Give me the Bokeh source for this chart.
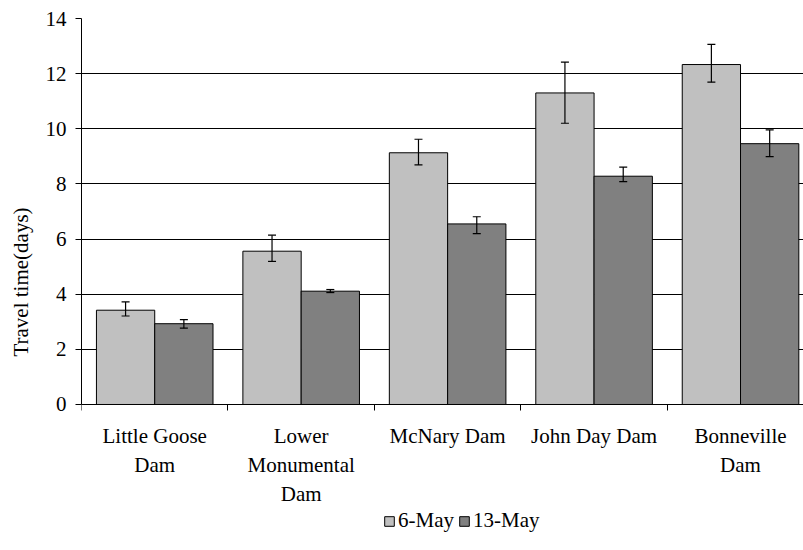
from bokeh.plotting import figure
from bokeh.models import (ColumnDataSource, Whisker, TeeHead, FixedTicker, Range1d,
                          Legend, LegendItem)
from bokeh.embed import file_html
from bokeh.resources import INLINE

# ---- data ----
categories = ["Little Goose\nDam", "Lower\nMonumental\nDam", "McNary Dam",
              "John Day Dam", "Bonneville\nDam"]
may6 = [3.42, 5.56, 9.13, 11.30, 12.33]
may6_lo = [3.21, 5.19, 8.69, 10.20, 11.69]
may6_hi = [3.72, 6.14, 9.62, 12.42, 13.06]
may13 = [2.93, 4.11, 6.55, 8.28, 9.46]
may13_lo = [2.77, 4.06, 6.20, 8.08, 8.99]
may13_hi = [3.08, 4.17, 6.81, 8.61, 9.96]
y_ticks = [0, 2, 4, 6, 8, 10, 12, 14]
series_names = ["6-May", "13-May"]

FONT = "Liberation Serif"
FS = "21px"
bar_w = 0.398
centers = [i + 0.5 for i in range(len(categories))]

src6 = ColumnDataSource(dict(x=[c - bar_w / 2 for c in centers], top=may6,
                             lo=may6_lo, hi=may6_hi))
src13 = ColumnDataSource(dict(x=[c + bar_w / 2 for c in centers], top=may13,
                              lo=may13_lo, hi=may13_hi))

# frame extends below the zero line so the category labels and legend live inside it
p = figure(frame_width=722, frame_height=527,
           output_backend="svg", toolbar_location=None,
           x_range=Range1d(0, 4.93), y_range=Range1d(-5.114, 14),
           min_border_left=81, min_border_top=18, min_border_right=0,
           min_border_bottom=0)
p.outline_line_color = None
p.background_fill_color = "white"

r6 = p.vbar(x="x", top="top", width=bar_w, source=src6, fill_color="#C0C0C0",
            line_color="black", line_width=1)
r13 = p.vbar(x="x", top="top", width=bar_w, source=src13, fill_color="#808080",
             line_color="black", line_width=1)

for src in (src6, src13):
    w = Whisker(base="x", lower="lo", upper="hi", source=src, level="overlay",
                line_color="black", line_width=1.2,
                upper_head=TeeHead(size=8, line_color="black", line_width=1.2),
                lower_head=TeeHead(size=8, line_color="black", line_width=1.2))
    p.add_layout(w)

# y axis
p.yaxis.ticker = FixedTicker(ticks=y_ticks)
p.yaxis.bounds = (0, 14)
p.yaxis.axis_label = "Travel time(days)"
p.yaxis.axis_label_text_font = FONT
p.yaxis.axis_label_text_font_style = "normal"
p.yaxis.axis_label_text_font_size = FS
p.yaxis.axis_label_text_color = "black"
p.yaxis.axis_label_standoff = 10
p.yaxis.major_label_text_font = FONT
p.yaxis.major_label_text_font_size = FS
p.yaxis.major_label_text_color = "black"
p.yaxis.major_label_standoff = 9
p.yaxis.major_tick_out = 6
p.yaxis.major_tick_in = 0
p.yaxis.minor_tick_line_color = None
p.yaxis.axis_line_color = "black"
p.yaxis.major_tick_line_color = "black"

# x axis drawn at y = 0
p.xaxis.fixed_location = 0
p.xaxis.ticker = FixedTicker(ticks=centers, minor_ticks=list(range(len(categories) + 1)))
p.xaxis.major_label_overrides = {c: lab for c, lab in zip(centers, categories)}
p.xaxis.major_label_text_font = FONT
p.xaxis.major_label_text_font_size = FS
p.xaxis.major_label_text_color = "black"
p.xaxis.major_label_standoff = 14
p.xaxis.major_tick_line_color = None
p.xaxis.major_tick_out = 6
p.xaxis.minor_tick_line_color = "black"
p.xaxis.minor_tick_out = 6
p.xaxis.minor_tick_in = 0
p.xaxis.axis_line_color = "black"

p.xgrid.grid_line_color = None
p.ygrid.grid_line_color = "black"
p.ygrid.grid_line_width = 1
p.ygrid.ticker = FixedTicker(ticks=y_ticks)

legend = Legend(items=[LegendItem(label=series_names[0], renderers=[r6]),
                       LegendItem(label=series_names[1], renderers=[r13])],
                orientation="horizontal", location=(302, 12),
                label_text_font=FONT, label_text_font_size=FS,
                label_text_color="black",
                glyph_width=12, glyph_height=12, label_standoff=3, spacing=4,
                border_line_color=None, background_fill_alpha=0,
                padding=1, margin=0)
p.add_layout(legend, "center")

open("out.html", "w").write(file_html(p, INLINE))
